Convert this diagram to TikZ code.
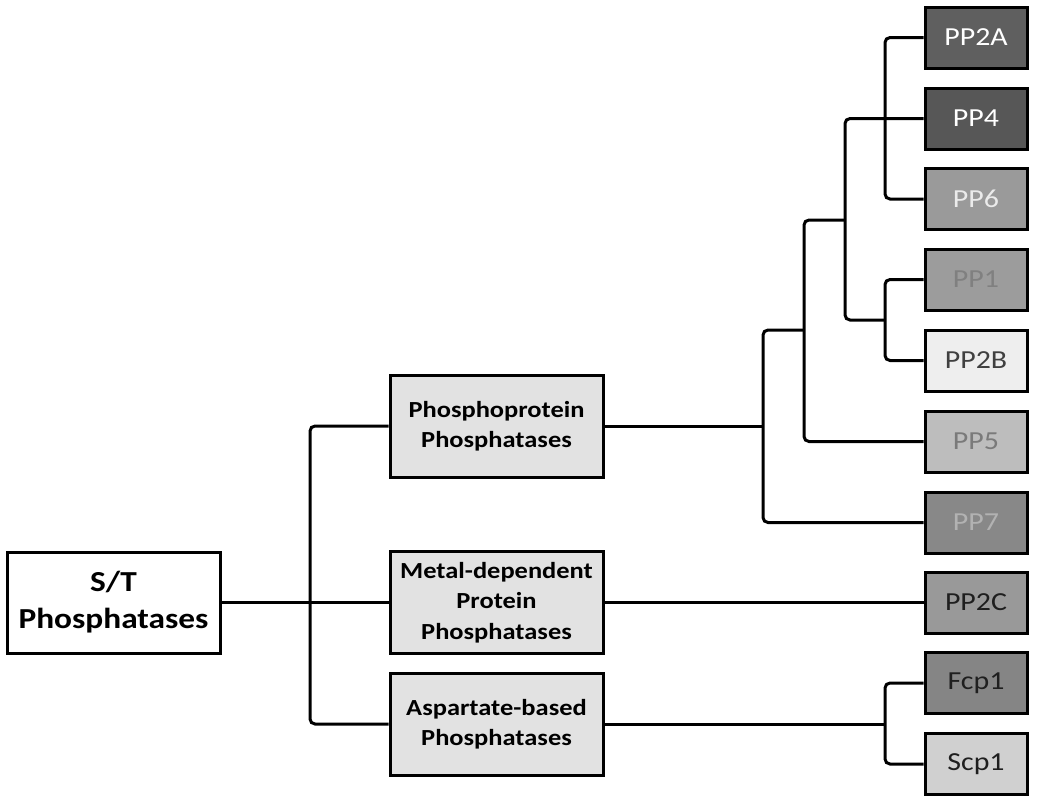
\documentclass[tikz,border=0pt]{standalone}
\usepackage{fontspec}
\setmainfont{Carlito}[FakeStretch=1.15]
\definecolor{cA}{HTML}{5F5F5F}
\definecolor{cB}{HTML}{575757}
\definecolor{cC}{HTML}{9A9A9A}
\definecolor{cD}{HTML}{9C9C9C}
\definecolor{cE}{HTML}{EEEEEE}
\definecolor{cF}{HTML}{BDBDBD}
\definecolor{cG}{HTML}{858585}
\definecolor{cH}{HTML}{999999}
\definecolor{cI}{HTML}{888888}
\definecolor{cJ}{HTML}{D0D0D0}
\definecolor{mid}{HTML}{E2E2E2}
\begin{document}
\begin{tikzpicture}[x=1pt,y=-1pt,
  box/.style={draw=black,line width=3pt,inner sep=2pt,align=center},
  root/.style={box,fill=white,minimum width=213pt,minimum height=101pt,font=\fontsize{29}{37}\selectfont\bfseries},
  midbox/.style={box,fill=mid,minimum width=213pt,minimum height=102pt,font=\fontsize{23}{30.5}\selectfont\bfseries},
  leaf/.style={box,minimum width=102pt,minimum height=61pt,font=\fontsize{26}{30}\selectfont},
  conn/.style={line width=3pt,rounded corners=5pt}]
\useasboundingbox (0,0) rectangle (1050,801);
% root and middle level
\node[root] (st) at (113.5,602.5) {S/T\\Phosphatases};
\node[midbox] (phos) at (496.5,426) {Phosphoprotein\\Phosphatases};
\node[midbox] (metal) at (496.5,602.5) {Metal-dependent\\Protein\\Phosphatases};
\node[midbox] (asp) at (496.5,724) {Aspartate-based\\Phosphatases};
% leaves
\node[leaf,fill=cA,text=white] (pp2a) at (976,37.5) {PP2A};
\node[leaf,fill=cB,text=white] (pp4) at (976,118.5) {PP4};
\node[leaf,fill=cC,text=black!8] (pp6) at (976,199) {PP6};
\node[leaf,fill=cD,text=black!50] (pp1) at (976,279.5) {PP1};
\node[leaf,fill=cE,text=black!75] (pp2b) at (976,360.5) {PP2B};
\node[leaf,fill=cF,text=black!52] (pp5) at (976,441.5) {PP5};
\node[leaf,fill=cI,text=black!30] (pp7) at (976,522.5) {PP7};
\node[leaf,fill=cH,text=black!88] (pp2c) at (976,602.5) {PP2C};
\node[leaf,fill=cG,text=black!88] (fcp1) at (976,683) {Fcp1};
\node[leaf,fill=cJ,text=black!88] (scp1) at (976,764) {Scp1};
% junctions
\coordinate (j0) at (310,602.5);
\coordinate (j1) at (763,426);
\coordinate (j2) at (804,330);
\coordinate (j3) at (845,220);
\coordinate (j4) at (885,118.5);
\coordinate (j5) at (885,320);
\coordinate (j6) at (885,724);
% connectors
\draw[conn] (st.east) -- (metal.west);
\draw[conn] (phos.west) -| (j0) |- (asp.west);
\draw[conn] (metal.east) -- (pp2c.west);
\draw[conn] (phos.east) -- (j1);
\draw[conn] (j2) -| (j1) |- (pp7.west);
\draw[conn] (j3) -| (j2) |- (pp5.west);
\draw[conn] (pp4.west) -| (j3) |- (j5);
\draw[conn] (pp2a.west) -| (j4) |- (pp6.west);
\draw[conn] (pp1.west) -| (j5) |- (pp2b.west);
\draw[conn] (asp.east) -- (j6);
\draw[conn] (fcp1.west) -| (j6) |- (scp1.west);
\end{tikzpicture}
\end{document}
